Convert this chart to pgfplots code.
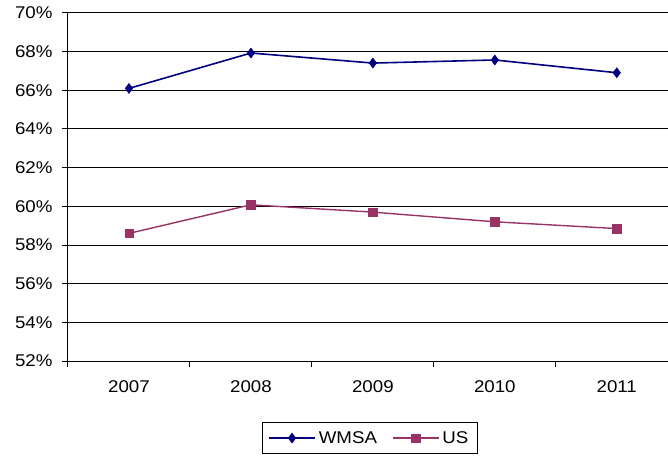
\documentclass[border=0pt]{standalone}
\usepackage{pgfplots}
\pgfplotsset{compat=1.18}
\usepackage{fontspec}
\setmainfont{Liberation Sans}[FakeStretch=1.1]
\definecolor{wmsa}{RGB}{0,0,128}
\definecolor{usc}{RGB}{153,51,102}

\begin{document}
\begin{tikzpicture}
\useasboundingbox (-68bp,-96bp) rectangle (600bp,361bp);
\begin{axis}[
  at={(0,0)}, anchor=south west,
  scale only axis, width=600bp, height=348bp,
  xmin=-0.5, xmax=4.42, ymin=52, ymax=70,
  axis x line*=bottom, axis y line*=left,
  axis line style={black, line width=1bp},
  ytick={52,54,...,70},
  yticklabel={\pgfmathprintnumber{\tick}\%},
  /pgf/number format/assume math mode=true,
  ymajorgrids, grid style={black, line width=1bp},
  xtick={0,1,2,3,4},
  xticklabels={2007,2008,2009,2010,2011},
  minor xtick={-0.5,0.5,1.5,2.5,3.5},
  major x tick style={draw=none},
  minor x tick style={black, line width=1bp},
  y tick style={black, line width=1bp},
  tick align=outside,
  major tick length=6bp, minor tick length=6bp,
  ticklabel style={font=\fontsize{17bp}{20bp}\selectfont},
  xticklabel style={yshift=-10bp},
  yticklabel style={xshift=-6bp},
  legend columns=2,
  legend style={at={(0.503,-0.175)}, anchor=north,
    draw=black, line width=1bp, font=\fontsize{17bp}{20bp}\selectfont,
    inner xsep=6bp, inner ysep=7bp,
    nodes={inner xsep=3bp},
    /tikz/every even column/.append style={column sep=12bp}},
  legend image code/.code={%
    \draw[mark repeat=2,mark phase=2] plot coordinates {(0bp,0bp)(23bp,0bp)(46bp,0bp)};},
]
\addplot[color=wmsa, line width=1.6bp, mark=diamond*, mark size=5bp,
  mark options={fill=wmsa, line width=0.5bp}]
  coordinates {(0,66.1) (1,67.93) (2,67.41) (3,67.57) (4,66.91)};
\addlegendentry{WMSA}
\addplot[color=usc, line width=1.4bp, mark=square*, mark size=4.2bp,
  mark options={fill=usc, line width=0.5bp}]
  coordinates {(0,58.6) (1,60.08) (2,59.7) (3,59.2) (4,58.85)};
\addlegendentry{US}
\end{axis}
\end{tikzpicture}
\end{document}
